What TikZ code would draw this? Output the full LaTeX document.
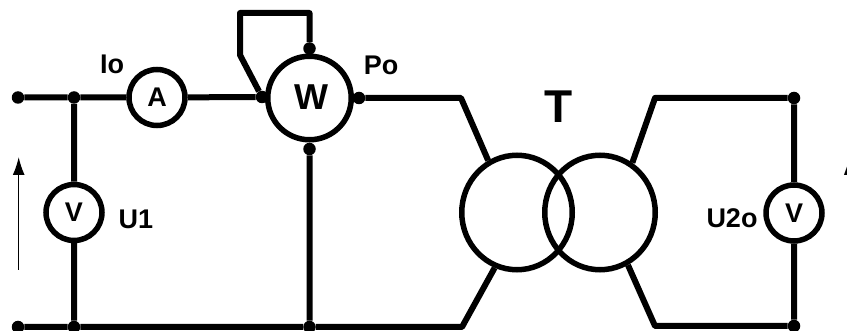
\documentclass[tikz,border=0pt]{standalone}
\usepackage{fontspec}
\setmainfont{Liberation Sans}
\usetikzlibrary{arrows.meta,positioning,shapes.geometric}

\tikzset{
  meter/.style={circle,draw,line width=5.5pt,inner sep=0pt,minimum size=56pt,font=\fontsize{27}{27}\selectfont\bfseries},
  coil/.style={ellipse,draw,line width=5.5pt,inner sep=0pt,minimum width=110.5pt,minimum height=114.5pt},
  dot/.style={circle,fill,inner sep=0pt,minimum size=12.5pt},
  tag/.style={inner sep=0pt,font=\fontsize{27}{27}\selectfont\bfseries},
  wire/.style={line width=6pt,line join=round}
}

\begin{document}
\begin{tikzpicture}[x=1pt,y=-1pt]
    \useasboundingbox (0,0) rectangle (847,331);

    \node[dot]     (t1)     at (18,97.5)                      {};
    \node[dot]     (j1)     [right of=t1,node distance=56pt]  {};
    \node[meter]   (io)     [right of=j1,node distance=83pt]  {A};
    \node[meter,minimum size=83.5pt] (w) at (309.5,98)        {};
    \node[dot]     (wl)     at (262,97)                       {};
    \node[dot]     (wt)     at (309.5,48.5)                   {};
    \node[dot]     (wr)     at (359,98)                       {};
    \node[dot]     (wb)     at (309.5,149)                    {};
    \node[meter]   (u1)     [below of=j1,node distance=115pt] {V};
    \node[dot]     (t2)     at (18,327)                       {};
    \node[dot]     (j2)     [right of=t2,node distance=56pt]  {};
    \node[dot]     (j3)     at (309.5,327)                    {};

    \node[coil]    (prim)   at (517,212.5)                    {};
    \node[coil]    (sec)    at (600,212.5)                    {};

    \node[dot]     (r1)     at (794,98)                       {};
    \node[dot]     (r2)     at (794,326)                      {};
    \node[meter]   (u2)     at (794,213)                      {V};

    \coordinate (c1) at (309.5,13);
    \coordinate (c2) at (240,13);
    \coordinate (c3) at (240,55);
    \coordinate (b1) at (461,98);
    \coordinate (b2) at (462,327);
    \coordinate (b3) at (655,98);
    \coordinate (b4) at (655,326);
    \coordinate (a1) at (18.7,270);
    \coordinate (a2) at (18.7,157);

    \node[tag]  (lio)  at (112,64)  {Io};
    \node[tag]  (lu1)  at (136,219) {U1};
    \node[tag]  (lpo)  at (381,65)  {Po};
    \node[tag]  (lu2)  at (732,218) {U2o};
    \node[tag,font=\fontsize{46}{46}\selectfont\bfseries] (lt) at (559,106.5) {T};
    \node[tag,font=\fontsize{36}{36}\selectfont\bfseries] (la) at (856,163)   {A};
    \node[tag,font=\fontsize{36}{36}\selectfont\bfseries] (lw) at (311,97)    {W};

    \path[wire,draw]
      (t1) -- (j1) -- (io)
      (io) -- (wl)
      (j1) -- (u1) -- (j2)
      (t2) -- (j2) -- (j3) -- (b2) -- (prim.248)
      (wl) -- (c3) -- (c2) -- (c1) -- (wt)
      (wb) -- (j3)
      (wr) -- (b1) -- (prim.119)
      (sec.57) -- (b3) -- (r1) -- (u2) -- (r2) -- (b4) -- (sec.-62);

    \draw[-{Latex[length=18pt,width=12pt]},line width=1.5pt] (a1) -- (a2);
\end{tikzpicture}
\end{document}
